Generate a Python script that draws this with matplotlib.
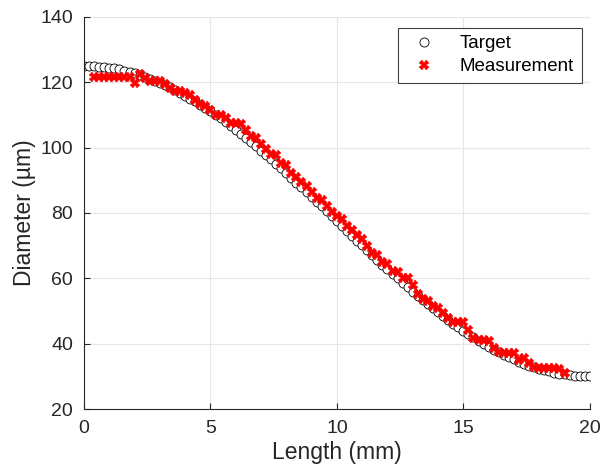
import numpy as np
import matplotlib
matplotlib.use('Agg')
import matplotlib.pyplot as plt

plt.rcParams['font.family'] = ['Liberation Sans', 'DejaVu Sans']

# target profile (sampled every 0.2 mm)
target_x = np.linspace(0, 20, 101)
target_y = [125.0, 125.0, 124.9, 124.8, 124.6, 124.4, 124.2, 123.9, 123.5, 123.1,
            122.7, 122.2, 121.7, 121.1, 120.5, 119.8, 119.1, 118.4, 117.6, 116.8,
            115.9, 115.0, 114.1, 113.1, 112.1, 111.1, 110.0, 108.9, 107.8, 106.6,
            105.4, 104.2, 103.0, 101.7, 100.4, 99.1, 97.7, 96.4, 95.0, 93.6,
            92.2, 90.8, 89.3, 87.9, 86.4, 84.9, 83.5, 82.0, 80.5, 79.0,
            77.5, 76.0, 74.5, 73.0, 71.5, 70.1, 68.6, 67.1, 65.7, 64.2,
            62.8, 61.4, 60.0, 58.6, 57.3, 55.9, 54.6, 53.3, 52.0, 50.8,
            49.6, 48.4, 47.2, 46.1, 45.0, 43.9, 42.9, 41.9, 40.9, 40.0,
            39.1, 38.2, 37.4, 36.6, 35.9, 35.2, 34.5, 33.9, 33.3, 32.8,
            32.3, 31.9, 31.5, 31.1, 30.8, 30.6, 30.4, 30.2, 30.1, 30.0,
            30.0]

# measured profile
meas_x = np.linspace(0.4, 19.0, 94)
meas_y = [121.6, 121.6, 121.6, 121.6, 121.6, 121.6, 121.6, 121.6, 119.9, 122.6,
          121.2, 120.5, 120.5, 120.3, 119.5, 118.2, 117.3, 117.3, 116.6, 116.2,
          114.5, 113.2, 112.6, 111.4, 110.1, 110.0, 109.2, 107.6, 107.4, 107.2,
          105.3, 103.5, 103.0, 101.0, 99.6, 97.9, 97.6, 95.3, 94.6, 92.2,
          91.0, 89.4, 88.2, 86.5, 84.5, 84.0, 82.0, 80.4, 79.0, 78.0,
          76.0, 74.7, 73.2, 72.0, 69.8, 67.6, 67.0, 65.0, 64.3, 62.2,
          62.0, 60.0, 60.0, 58.0, 55.2, 53.8, 53.0, 51.5, 51.0, 49.4,
          48.0, 46.6, 46.5, 46.5, 44.3, 41.6, 41.0, 41.0, 40.9, 38.8,
          37.5, 37.0, 37.0, 37.0, 35.0, 35.6, 34.0, 32.8, 32.7, 32.6,
          32.6, 32.5, 32.3, 31.0]

fig = plt.figure(figsize=(6, 4.68), dpi=100)
ax = fig.add_axes([0.14, 0.126, 0.843, 0.838])

ax.plot(target_x, target_y, 'o', mfc='white', mec='black', mew=0.6, ms=6.5,
        label='Target', zorder=2)
ax.plot(meas_x, meas_y, 'X', color='red', mec='red', ms=7, mew=0.3,
        label='Measurement', zorder=3)

ax.set_xlim(0, 20)
ax.set_ylim(20, 140)
ax.set_xticks([0, 5, 10, 15, 20])
ax.set_yticks([20, 40, 60, 80, 100, 120, 140])
ax.grid(True, color='#e6e6e6', linewidth=0.8)
ax.set_axisbelow(True)
for s in ['top', 'right']:
    ax.spines[s].set_visible(False)
for s in ['left', 'bottom']:
    ax.spines[s].set_color('#262626')
    ax.spines[s].set_linewidth(0.8)
ax.tick_params(direction='in', labelsize=14, colors='#262626', length=4, pad=8)

ax.set_xlabel('Length (mm)', fontsize=16.5, color='#262626', labelpad=3)
ax.set_ylabel('Diameter (µm)', fontsize=16.5, color='#262626', labelpad=3)

leg = ax.legend(loc='upper right', fontsize=13.5, fancybox=False, framealpha=1,
                edgecolor='#404040', borderpad=0.4, handletextpad=0.9,
                labelspacing=0.3, borderaxespad=0,
                bbox_to_anchor=(0.984, 0.972))
leg.get_frame().set_linewidth(0.8)

fig.savefig('out.png', dpi=100)
